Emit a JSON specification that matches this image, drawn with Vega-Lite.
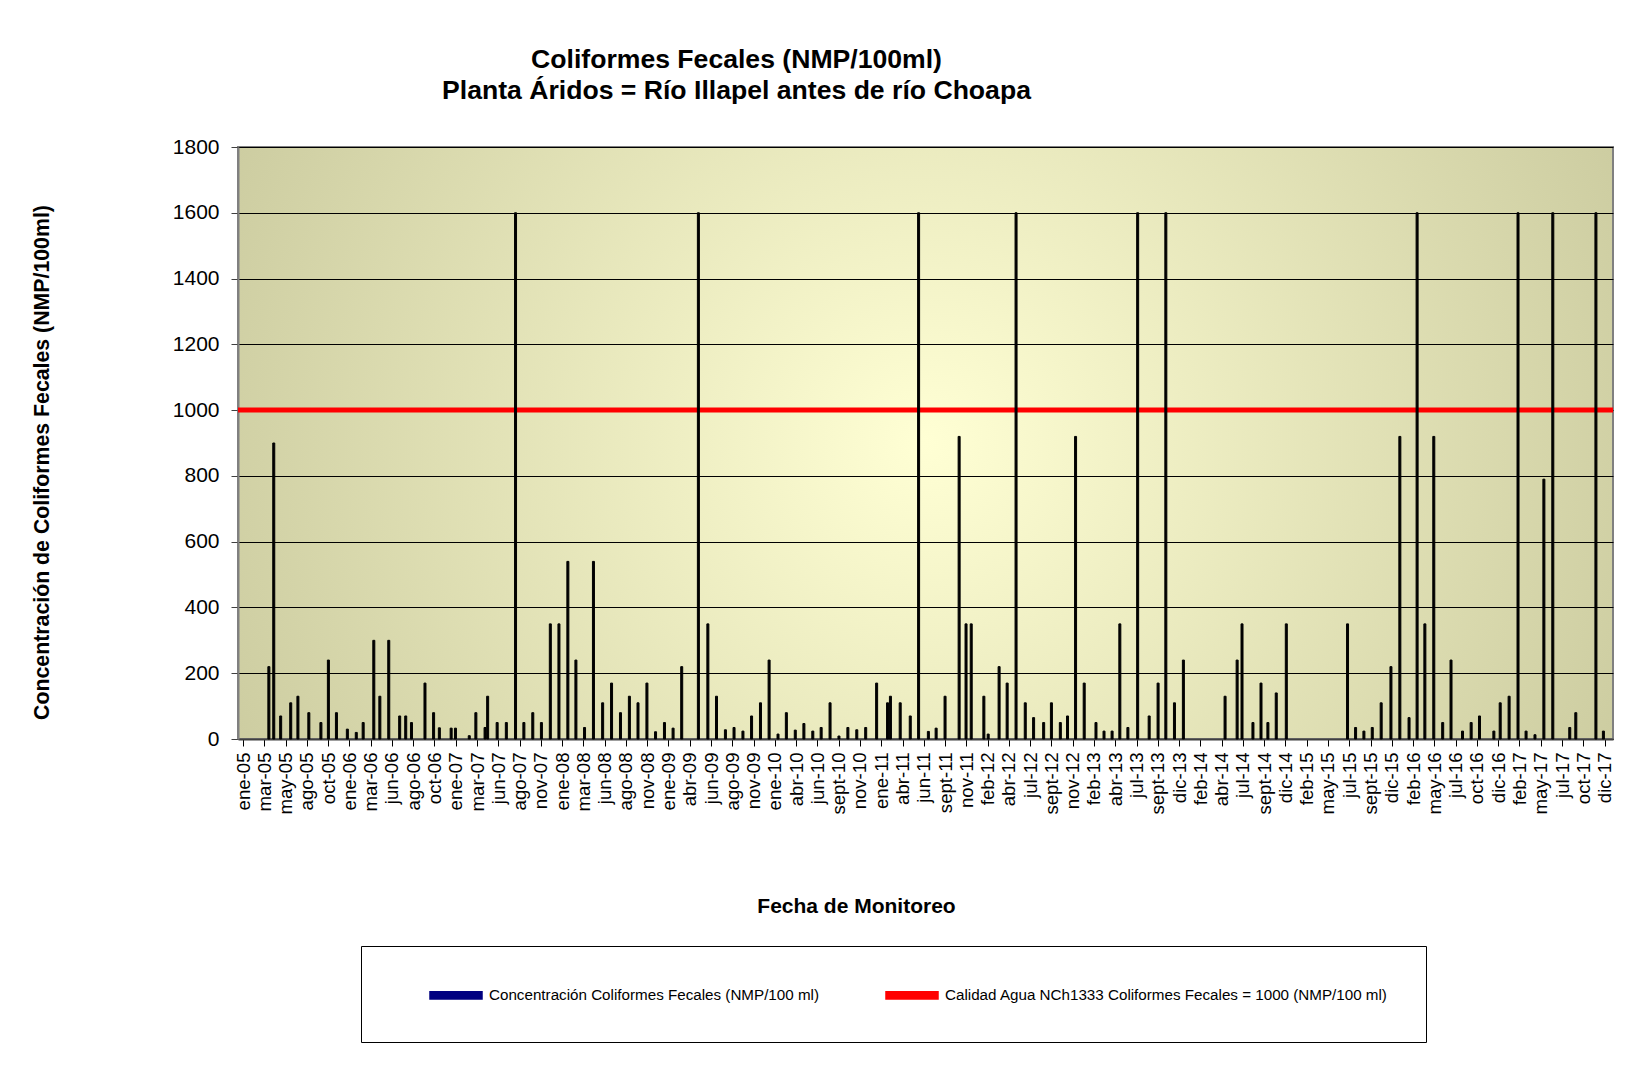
{
  "$schema": "https://vega.github.io/schema/vega-lite/v6.json",
  "width": 1375,
  "height": 592,
  "autosize": {"type": "none"},
  "padding": {"left": 238, "top": 147, "right": 24, "bottom": 342},
  "background": "white",
  "title": {
    "text": ["Coliformes Fecales (NMP/100ml)", "Planta Áridos = Río Illapel antes de río Choapa"],
    "font": "Liberation Sans",
    "fontSize": 26.6,
    "fontWeight": "bold",
    "color": "black",
    "anchor": "middle",
    "dx": -189,
    "offset": 31,
    "lineHeight": 31
  },
  "data": {
    "values": [
      {"fecha": "2005-04-01", "valor": 220},
      {"fecha": "2005-04-18", "valor": 900},
      {"fecha": "2005-05-12", "valor": 70},
      {"fecha": "2005-06-16", "valor": 110},
      {"fecha": "2005-07-11", "valor": 130},
      {"fecha": "2005-08-18", "valor": 80},
      {"fecha": "2005-09-29", "valor": 50},
      {"fecha": "2005-10-25", "valor": 240},
      {"fecha": "2005-11-22", "valor": 80},
      {"fecha": "2005-12-30", "valor": 30},
      {"fecha": "2006-01-30", "valor": 20},
      {"fecha": "2006-02-23", "valor": 50},
      {"fecha": "2006-04-01", "valor": 300},
      {"fecha": "2006-04-22", "valor": 130},
      {"fecha": "2006-05-23", "valor": 300},
      {"fecha": "2006-06-30", "valor": 70},
      {"fecha": "2006-07-21", "valor": 70},
      {"fecha": "2006-08-10", "valor": 50},
      {"fecha": "2006-09-26", "valor": 170},
      {"fecha": "2006-10-26", "valor": 80},
      {"fecha": "2006-11-15", "valor": 34},
      {"fecha": "2006-12-26", "valor": 33},
      {"fecha": "2007-01-10", "valor": 33},
      {"fecha": "2007-02-27", "valor": 10},
      {"fecha": "2007-03-22", "valor": 80},
      {"fecha": "2007-04-23", "valor": 35},
      {"fecha": "2007-05-02", "valor": 130},
      {"fecha": "2007-06-04", "valor": 50},
      {"fecha": "2007-07-06", "valor": 50},
      {"fecha": "2007-08-07", "valor": 1600},
      {"fecha": "2007-09-05", "valor": 50},
      {"fecha": "2007-10-06", "valor": 80},
      {"fecha": "2007-11-05", "valor": 50},
      {"fecha": "2007-12-06", "valor": 350},
      {"fecha": "2008-01-05", "valor": 350},
      {"fecha": "2008-02-05", "valor": 540},
      {"fecha": "2008-03-04", "valor": 240},
      {"fecha": "2008-04-03", "valor": 35},
      {"fecha": "2008-05-04", "valor": 540},
      {"fecha": "2008-06-05", "valor": 110},
      {"fecha": "2008-07-06", "valor": 170},
      {"fecha": "2008-08-06", "valor": 80},
      {"fecha": "2008-09-06", "valor": 130},
      {"fecha": "2008-10-06", "valor": 110},
      {"fecha": "2008-11-06", "valor": 170},
      {"fecha": "2008-12-06", "valor": 22},
      {"fecha": "2009-01-06", "valor": 50},
      {"fecha": "2009-02-05", "valor": 33},
      {"fecha": "2009-03-07", "valor": 220},
      {"fecha": "2009-05-04", "valor": 1600},
      {"fecha": "2009-06-06", "valor": 350},
      {"fecha": "2009-07-06", "valor": 130},
      {"fecha": "2009-08-06", "valor": 28},
      {"fecha": "2009-09-05", "valor": 35},
      {"fecha": "2009-10-06", "valor": 24},
      {"fecha": "2009-11-05", "valor": 70},
      {"fecha": "2009-12-06", "valor": 110},
      {"fecha": "2010-01-05", "valor": 240},
      {"fecha": "2010-02-05", "valor": 15},
      {"fecha": "2010-03-06", "valor": 80},
      {"fecha": "2010-04-06", "valor": 27},
      {"fecha": "2010-05-06", "valor": 47},
      {"fecha": "2010-06-06", "valor": 24},
      {"fecha": "2010-07-05", "valor": 35},
      {"fecha": "2010-08-05", "valor": 110},
      {"fecha": "2010-09-05", "valor": 9},
      {"fecha": "2010-10-06", "valor": 35},
      {"fecha": "2010-11-06", "valor": 28},
      {"fecha": "2010-12-07", "valor": 35},
      {"fecha": "2011-01-14", "valor": 170},
      {"fecha": "2011-02-21", "valor": 110},
      {"fecha": "2011-03-03", "valor": 130},
      {"fecha": "2011-04-06", "valor": 110},
      {"fecha": "2011-05-11", "valor": 70},
      {"fecha": "2011-06-09", "valor": 1600},
      {"fecha": "2011-07-13", "valor": 23},
      {"fecha": "2011-08-09", "valor": 33},
      {"fecha": "2011-09-09", "valor": 130},
      {"fecha": "2011-10-28", "valor": 920},
      {"fecha": "2011-11-21", "valor": 350},
      {"fecha": "2011-12-09", "valor": 350},
      {"fecha": "2012-01-22", "valor": 130},
      {"fecha": "2012-02-06", "valor": 15},
      {"fecha": "2012-03-15", "valor": 220},
      {"fecha": "2012-04-12", "valor": 170},
      {"fecha": "2012-05-13", "valor": 1600},
      {"fecha": "2012-06-14", "valor": 110},
      {"fecha": "2012-07-13", "valor": 65},
      {"fecha": "2012-08-17", "valor": 50},
      {"fecha": "2012-09-13", "valor": 110},
      {"fecha": "2012-10-14", "valor": 50},
      {"fecha": "2012-11-08", "valor": 70},
      {"fecha": "2012-12-06", "valor": 920},
      {"fecha": "2013-01-05", "valor": 170},
      {"fecha": "2013-02-15", "valor": 50},
      {"fecha": "2013-03-15", "valor": 24},
      {"fecha": "2013-04-12", "valor": 24},
      {"fecha": "2013-05-09", "valor": 350},
      {"fecha": "2013-06-06", "valor": 35},
      {"fecha": "2013-07-10", "valor": 1600},
      {"fecha": "2013-08-19", "valor": 70},
      {"fecha": "2013-09-19", "valor": 170},
      {"fecha": "2013-10-16", "valor": 1600},
      {"fecha": "2013-11-15", "valor": 110},
      {"fecha": "2013-12-16", "valor": 240},
      {"fecha": "2014-05-10", "valor": 130},
      {"fecha": "2014-06-21", "valor": 240},
      {"fecha": "2014-07-08", "valor": 350},
      {"fecha": "2014-08-15", "valor": 50},
      {"fecha": "2014-09-12", "valor": 170},
      {"fecha": "2014-10-06", "valor": 50},
      {"fecha": "2014-11-04", "valor": 140},
      {"fecha": "2014-12-09", "valor": 350},
      {"fecha": "2015-07-10", "valor": 350},
      {"fecha": "2015-08-07", "valor": 35},
      {"fecha": "2015-09-05", "valor": 24},
      {"fecha": "2015-10-04", "valor": 35},
      {"fecha": "2015-11-04", "valor": 110},
      {"fecha": "2015-12-08", "valor": 220},
      {"fecha": "2016-01-08", "valor": 920},
      {"fecha": "2016-02-09", "valor": 65},
      {"fecha": "2016-03-08", "valor": 1600},
      {"fecha": "2016-04-04", "valor": 350},
      {"fecha": "2016-05-05", "valor": 920},
      {"fecha": "2016-06-05", "valor": 50},
      {"fecha": "2016-07-04", "valor": 240},
      {"fecha": "2016-08-13", "valor": 24},
      {"fecha": "2016-09-12", "valor": 50},
      {"fecha": "2016-10-11", "valor": 70},
      {"fecha": "2016-11-30", "valor": 24},
      {"fecha": "2016-12-22", "valor": 110},
      {"fecha": "2017-01-22", "valor": 130},
      {"fecha": "2017-02-22", "valor": 1600},
      {"fecha": "2017-03-22", "valor": 24},
      {"fecha": "2017-04-22", "valor": 13},
      {"fecha": "2017-05-23", "valor": 790},
      {"fecha": "2017-06-23", "valor": 1600},
      {"fecha": "2017-08-21", "valor": 35},
      {"fecha": "2017-09-11", "valor": 80},
      {"fecha": "2017-11-20", "valor": 1600},
      {"fecha": "2017-12-16", "valor": 24}
    ]
  },
  "layer": [
    {
      "data": {"values": [{"limite": 1000}]},
      "mark": {"type": "rule", "strokeWidth": 5},
      "encoding": {
        "y": {"field": "limite", "type": "quantitative"},
        "color": {"datum": "Calidad Agua NCh1333 Coliformes Fecales = 1000 (NMP/100 ml)"}
      }
    },
    {
      "mark": {"type": "bar", "size": 2, "fill": "black", "stroke": "black", "strokeWidth": 1},
      "encoding": {
        "x": {
          "field": "fecha",
          "type": "temporal",
          "scale": {
            "type": "utc",
            "domain": [{"year": 2005, "month": 1, "date": 1, "utc": true}, {"year": 2018, "month": 1, "date": 1, "utc": true}]
          },
          "axis": {
            "values": [
              {"year": 2005, "month": 1, "date": 1, "utc": true},
              {"year": 2005, "month": 3, "date": 16, "utc": true},
              {"year": 2005, "month": 5, "date": 29, "utc": true},
              {"year": 2005, "month": 8, "date": 11, "utc": true},
              {"year": 2005, "month": 10, "date": 24, "utc": true},
              {"year": 2006, "month": 1, "date": 6, "utc": true},
              {"year": 2006, "month": 3, "date": 21, "utc": true},
              {"year": 2006, "month": 6, "date": 3, "utc": true},
              {"year": 2006, "month": 8, "date": 16, "utc": true},
              {"year": 2006, "month": 10, "date": 29, "utc": true},
              {"year": 2007, "month": 1, "date": 11, "utc": true},
              {"year": 2007, "month": 3, "date": 26, "utc": true},
              {"year": 2007, "month": 6, "date": 8, "utc": true},
              {"year": 2007, "month": 8, "date": 21, "utc": true},
              {"year": 2007, "month": 11, "date": 3, "utc": true},
              {"year": 2008, "month": 1, "date": 16, "utc": true},
              {"year": 2008, "month": 3, "date": 30, "utc": true},
              {"year": 2008, "month": 6, "date": 12, "utc": true},
              {"year": 2008, "month": 8, "date": 25, "utc": true},
              {"year": 2008, "month": 11, "date": 7, "utc": true},
              {"year": 2009, "month": 1, "date": 20, "utc": true},
              {"year": 2009, "month": 4, "date": 4, "utc": true},
              {"year": 2009, "month": 6, "date": 17, "utc": true},
              {"year": 2009, "month": 8, "date": 30, "utc": true},
              {"year": 2009, "month": 11, "date": 12, "utc": true},
              {"year": 2010, "month": 1, "date": 25, "utc": true},
              {"year": 2010, "month": 4, "date": 9, "utc": true},
              {"year": 2010, "month": 6, "date": 22, "utc": true},
              {"year": 2010, "month": 9, "date": 4, "utc": true},
              {"year": 2010, "month": 11, "date": 17, "utc": true},
              {"year": 2011, "month": 1, "date": 30, "utc": true},
              {"year": 2011, "month": 4, "date": 14, "utc": true},
              {"year": 2011, "month": 6, "date": 27, "utc": true},
              {"year": 2011, "month": 9, "date": 9, "utc": true},
              {"year": 2011, "month": 11, "date": 22, "utc": true},
              {"year": 2012, "month": 2, "date": 4, "utc": true},
              {"year": 2012, "month": 4, "date": 18, "utc": true},
              {"year": 2012, "month": 7, "date": 1, "utc": true},
              {"year": 2012, "month": 9, "date": 13, "utc": true},
              {"year": 2012, "month": 11, "date": 26, "utc": true},
              {"year": 2013, "month": 2, "date": 8, "utc": true},
              {"year": 2013, "month": 4, "date": 23, "utc": true},
              {"year": 2013, "month": 7, "date": 6, "utc": true},
              {"year": 2013, "month": 9, "date": 18, "utc": true},
              {"year": 2013, "month": 12, "date": 1, "utc": true},
              {"year": 2014, "month": 2, "date": 13, "utc": true},
              {"year": 2014, "month": 4, "date": 28, "utc": true},
              {"year": 2014, "month": 7, "date": 11, "utc": true},
              {"year": 2014, "month": 9, "date": 23, "utc": true},
              {"year": 2014, "month": 12, "date": 6, "utc": true},
              {"year": 2015, "month": 2, "date": 18, "utc": true},
              {"year": 2015, "month": 5, "date": 3, "utc": true},
              {"year": 2015, "month": 7, "date": 16, "utc": true},
              {"year": 2015, "month": 9, "date": 28, "utc": true},
              {"year": 2015, "month": 12, "date": 11, "utc": true},
              {"year": 2016, "month": 2, "date": 23, "utc": true},
              {"year": 2016, "month": 5, "date": 7, "utc": true},
              {"year": 2016, "month": 7, "date": 20, "utc": true},
              {"year": 2016, "month": 10, "date": 2, "utc": true},
              {"year": 2016, "month": 12, "date": 15, "utc": true},
              {"year": 2017, "month": 2, "date": 27, "utc": true},
              {"year": 2017, "month": 5, "date": 12, "utc": true},
              {"year": 2017, "month": 7, "date": 25, "utc": true},
              {"year": 2017, "month": 10, "date": 7, "utc": true},
              {"year": 2017, "month": 12, "date": 20, "utc": true}
            ],
            "labelExpr": "['ene','feb','mar','abr','may','jun','jul','ago','sept','oct','nov','dic'][utcmonth(datum.value)] + '-' + utcFormat(datum.value, '%y')",
            "labelAngle": 270,
            "labelAlign": "right",
            "labelBaseline": "middle",
            "labelFontSize": 18.6,
            "labelColor": "black",
            "labelOverlap": false,
            "labelFlush": false,
            "labelBound": false,
            "labelPadding": 6,
            "tickSize": 7,
            "tickColor": "black",
            "tickWidth": 1,
            "domainColor": "#404040",
            "domainWidth": 2,
            "grid": false,
            "title": "Fecha de Monitoreo",
            "titleFontSize": 21,
            "titleFontWeight": "bold",
            "titleColor": "black",
            "titleX": 618,
            "titleY": 167,
            "titleAlign": "center",
            "titleBaseline": "middle"
          }
        },
        "y": {
          "field": "valor",
          "type": "quantitative",
          "scale": {"domain": [0, 1800], "nice": false},
          "axis": {
            "values": [0, 200, 400, 600, 800, 1000, 1200, 1400, 1600, 1800],
            "format": "d",
            "labelFontSize": 21,
            "labelColor": "black",
            "labelPadding": 12,
            "tickSize": 7,
            "tickColor": "#404040",
            "domainColor": "#808080",
            "domainWidth": 2,
            "grid": true,
            "gridColor": "black",
            "gridWidth": 1,
            "title": "Concentración de Coliformes Fecales (NMP/100ml)",
            "titleFontSize": 21.3,
            "titleFontWeight": "bold",
            "titleColor": "black",
            "titleAngle": 270,
            "titleX": -186,
            "titleY": 315,
            "titleAlign": "center",
            "titleBaseline": "bottom"
          }
        },
        "color": {
          "datum": "Concentración Coliformes Fecales (NMP/100 ml)",
          "scale": {
            "domain": ["Concentración Coliformes Fecales (NMP/100 ml)", "Calidad Agua NCh1333 Coliformes Fecales = 1000 (NMP/100 ml)"],
            "range": ["#000080", "#FF0000"]
          },
          "legend": {
            "orient": "none",
            "legendX": 123,
            "legendY": 799,
            "direction": "horizontal",
            "title": " ",
            "titleOrient": "left",
            "titleFontSize": 4,
            "titlePadding": 46,
            "padding": 38,
            "strokeColor": "black",
            "fillColor": "white",
            "labelFontSize": 15.2,
            "labelColor": "black",
            "labelOffset": 22,
            "labelLimit": 0,
            "columnPadding": 63,
            "symbolSize": 400,
            "symbolType": "M-2.6,-0.36H2.6V0.36H-2.6Z",
            "encoding": {
              "symbols": {
                "update": {
                  "shape": {"signal": "datum.index === 0 ? 'M-2.6,-0.36H2.6V0.36H-2.6Z' : 'M-2.6,-0.15H2.6V0.15H-2.6Z'"},
                  "fill": {"signal": "datum.index === 0 ? '#000080' : '#FF0000'"},
                  "stroke": {"signal": "datum.index === 0 ? '#000000' : '#FF0000'"},
                  "strokeWidth": {"value": 1},
                  "opacity": {"value": 1},
                  "fillOpacity": {"value": 1}
                }
              }
            }
          }
        }
      }
    }
  ],
  "config": {
    "font": "Liberation Sans",
    "view": {
      "fill": {
        "gradient": "radial",
        "x1": 0.5, "y1": 0.5, "r1": 0,
        "x2": 0.5, "y2": 0.5, "r2": 0.62,
        "stops": [{"offset": 0, "color": "#FFFFD4"}, {"offset": 1, "color": "#C6C69A"}]
      },
      "stroke": "#808080",
      "strokeWidth": 2
    }
  }
}
